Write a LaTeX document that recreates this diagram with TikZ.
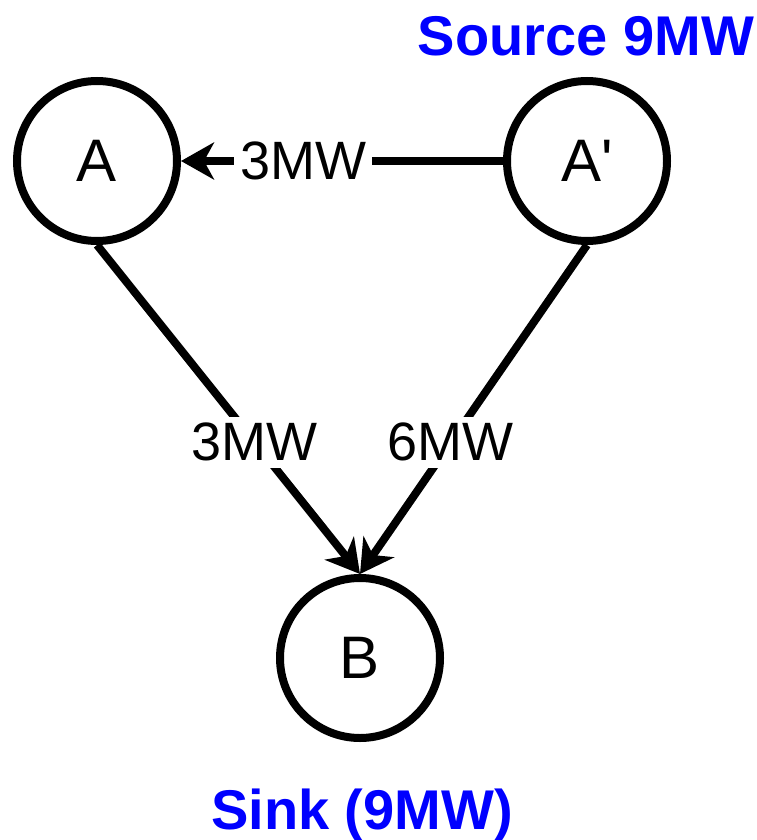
\documentclass[tikz,border=0pt]{standalone}
\usepackage{fontspec}
\setmainfont{Liberation Sans}
\usetikzlibrary{arrows.meta}
\begin{document}
\begin{tikzpicture}[x=1pt,y=-1pt,
  vnode/.style={circle,draw=black,line width=8pt,minimum size=160pt,inner sep=0pt,font=\fontsize{60}{70}\selectfont},
  flow/.style={line width=8pt,-{Stealth[length=33pt,width=37pt,inset=10pt]}},
  flowlabel/.style={fill=white,inner sep=6pt,font=\fontsize{54}{64}\selectfont},
  title/.style={text=blue,font=\bfseries\fontsize{56}{66}\selectfont}]
\useasboundingbox (0,0) rectangle (757,840);
\node[vnode] (A) at (97,161) {A};
\node[vnode] (Ap) at (587,161) {A\textquotesingle};
\node[vnode] (B) at (360,658) {B};
\draw[flow] (Ap.west) -- node[flowlabel,pos=0.62] {3MW} (A.east);
\draw[flow] (A.south) -- node[flowlabel,pos=0.6] {3MW} (B.north);
\draw[flow] (Ap.south) -- node[flowlabel,pos=0.6] {6MW} (B.north);
\node[title] (src) at (586,36) {Source 9MW};
\node[title] (snk) at (362,815) {Sink (9MW)};
\end{tikzpicture}
\end{document}
